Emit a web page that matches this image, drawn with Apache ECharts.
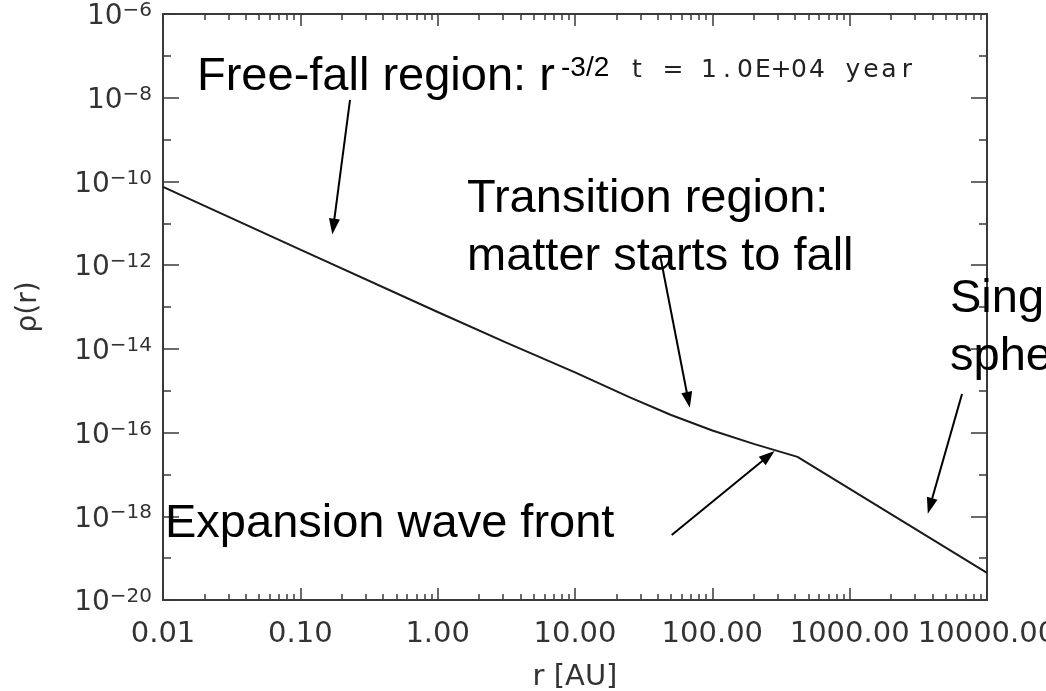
<!DOCTYPE html>
<html>
<head>
<meta charset="utf-8">
<script src="https://cdn.jsdelivr.net/npm/echarts@6/dist/echarts.min.js"></script>
<style>
  html, body { margin: 0; padding: 0; background: #fff; }
  #chart { width: 1046px; height: 691px; }
</style>
</head>
<body>
<div id="chart"></div>
<script>
// ---- data ----
// radius r [AU] and density rho(r)
const radius = [0.01, 0.1, 1, 3.16, 10, 25.1, 50.1, 100, 200, 417, 10000];
const density = [7.41e-11, 2.34e-12, 7.59e-14, 1.41e-14, 2.75e-15, 6.92e-16, 2.63e-16, 1.12e-16, 5.37e-17, 2.63e-17, 4.47e-20];

// x tick labels (one per decade, 0.01 .. 10000)
const xTickLabels = ['0.01', '0.10', '1.00', '10.00', '100.00', '1000.00', '10000.00'];
// y tick exponents shown as labels
const yTickExponents = [-20, -18, -16, -14, -12, -10, -8, -6];

// annotation arrows: [r_from, rho_from, r_to, rho_to]
const arrowFreeFall   = [0.230, 8.83e-9, 0.174, 8.30e-12];
const arrowTransition = [41.6, 1.75e-12, 66.8, 6.01e-16];
const arrowWaveFront  = [50.6, 3.58e-19, 256, 2.76e-17];
const arrowSingular   = [6577, 8.36e-16, 3846, 1.76e-18];

// annotation texts
const textFreeFall = 'Free-fall region: r';
const textFreeFallSup = '-3/2';
const textTime = 't = 1.0E+04 year';
const textTransition1 = 'Transition region:';
const textTransition2 = 'matter starts to fall';
const textSingular1 = 'Singular isothermal';
const textSingular2 = 'sphere';
const textWaveFront = 'Expansion wave front';

// ---- helpers ----
const L = Math.log10;
const lineData = radius.map((r, i) => [L(r), L(density[i])]);
function arrow(a) {
  return [{ coord: [L(a[0]), L(a[1])] }, { coord: [L(a[2]), L(a[3])] }];
}
// minor ticks 2..9 in each decade (log positions)
const xMinor = [];
for (let d = -2; d < 4; d++) {
  for (let k = 2; k <= 9; k++) xMinor.push(d + L(k));
}

const axisColor = '#3a3a3a';
const labelFont = 'DejaVu Sans';
const annFont = '"Liberation Sans", Arial, sans-serif';

const xMajorBase = {
  type: 'value', min: -2, max: 4, interval: 1, gridIndex: 0,
  splitLine: { show: false },
  axisLine: { show: true, onZero: false, lineStyle: { color: axisColor, width: 2 } },
  axisTick: { show: true, inside: true, length: 12, lineStyle: { color: axisColor, width: 1.5 } },
};
const xMinorBase = {
  type: 'value', min: -2, max: 4, interval: 1, gridIndex: 0,
  splitLine: { show: false },
  axisLine: { show: false, onZero: false },
  axisLabel: { show: false },
  axisTick: { show: true, inside: true, length: 6, customValues: xMinor, lineStyle: { color: axisColor, width: 1.5 } },
};

const yBase = {
  type: 'value', min: -20, max: -6, interval: 2,
  splitLine: { show: false },
  axisLine: { show: true, onZero: false, lineStyle: { color: axisColor, width: 2 } },
  axisTick: { show: true, inside: true, length: 16, lineStyle: { color: axisColor, width: 1.5 } },
  minorTick: { show: true, splitNumber: 2, length: 8, lineStyle: { color: axisColor, width: 1.5 } },
};

function charTokens(s) {
  return s.split('').map(c => '{c|' + c + '}').join('');
}

const chart = echarts.init(document.getElementById('chart'), null, { renderer: 'canvas' });
chart.setOption({
  animation: false,
  backgroundColor: '#ffffff',
  grid: { left: 163, right: 59, top: 14, bottom: 91, containLabel: false, outerBoundsMode: 'none' },
  xAxis: [
    Object.assign({}, xMajorBase, {
      position: 'bottom',
      axisLabel: {
        show: true, margin: 20, showMinLabel: true, showMaxLabel: true, hideOverlap: false,
        fontFamily: labelFont, fontSize: 29, color: '#333',
        formatter: v => xTickLabels[Math.round(v) + 2]
      },
      name: 'r [AU]', nameLocation: 'middle', nameGap: 63,
      nameTextStyle: { fontFamily: labelFont, fontSize: 29, color: '#333' }
    }),
    Object.assign({}, xMinorBase, { position: 'bottom' }),
    Object.assign({}, xMajorBase, { position: 'top', axisLabel: { show: false } }),
    Object.assign({}, xMinorBase, { position: 'top' })
  ],
  yAxis: [
    Object.assign({}, yBase, {
      position: 'left',
      axisLabel: {
        show: true, margin: 11, showMinLabel: true, showMaxLabel: true,
        padding: [6, 0, 0, 0],
        formatter: v => {
          const e = yTickExponents.find(x => x === Math.round(v));
          return '{b|10}{s|\u2212' + Math.abs(e) + '}';
        },
        rich: {
          b: { fontFamily: labelFont, fontSize: 28, color: '#333', lineHeight: 32 },
          s: { fontFamily: labelFont, fontSize: 20, color: '#333', lineHeight: 20, verticalAlign: 'top' }
        }
      },
      name: '\u03c1(r)', nameLocation: 'middle', nameGap: 120, nameRotate: 90,
      nameTextStyle: { fontFamily: labelFont, fontSize: 28, color: '#333' }
    }),
    Object.assign({}, yBase, { position: 'right', axisLabel: { show: false } })
  ],
  series: [{
    type: 'line',
    xAxisIndex: 0, yAxisIndex: 0,
    data: lineData,
    showSymbol: false,
    symbol: 'none',
    lineStyle: { color: '#1a1a1a', width: 2 },
    silent: true,
    z: 3,
    markLine: {
      silent: true,
      symbol: ['none', 'triangle'],
      symbolSize: [11, 16],
      label: { show: false },
      lineStyle: { color: '#000', width: 2, type: 'solid' },
      emphasis: { disabled: true },
      data: [arrow(arrowFreeFall), arrow(arrowTransition), arrow(arrowWaveFront), arrow(arrowSingular)]
    }
  }],
  graphic: [
    { type: 'text', x: 197, y: 77, z: 10, style: { text: textFreeFall, font: '47px ' + annFont, fill: '#000', align: 'left', verticalAlign: 'middle' } },
    { type: 'text', x: 561, y: 68, z: 10, style: { text: textFreeFallSup, font: '28px ' + annFont, fill: '#000', align: 'left', verticalAlign: 'middle' } },
    { type: 'text', x: 628, y: 70, z: 10, style: {
        text: charTokens(textTime), fill: '#222', align: 'left', verticalAlign: 'middle',
        rich: { c: { width: 18, align: 'center', fontFamily: labelFont, fontSize: 25, fill: '#222', color: '#222' } }
      } },
    { type: 'text', x: 467, y: 199, z: 10, style: { text: textTransition1, font: '47px ' + annFont, fill: '#000', align: 'left', verticalAlign: 'middle' } },
    { type: 'text', x: 467, y: 257, z: 10, style: { text: textTransition2, font: '47px ' + annFont, fill: '#000', align: 'left', verticalAlign: 'middle' } },
    { type: 'text', x: 950, y: 299, z: 10, style: { text: textSingular1, font: '47px ' + annFont, fill: '#000', align: 'left', verticalAlign: 'middle' } },
    { type: 'text', x: 950, y: 357, z: 10, style: { text: textSingular2, font: '47px ' + annFont, fill: '#000', align: 'left', verticalAlign: 'middle' } },
    { type: 'text', x: 165, y: 524, z: 10, style: { text: textWaveFront, font: '47px ' + annFont, fill: '#000', align: 'left', verticalAlign: 'middle' } }
  ]
});
</script>
</body>
</html>
